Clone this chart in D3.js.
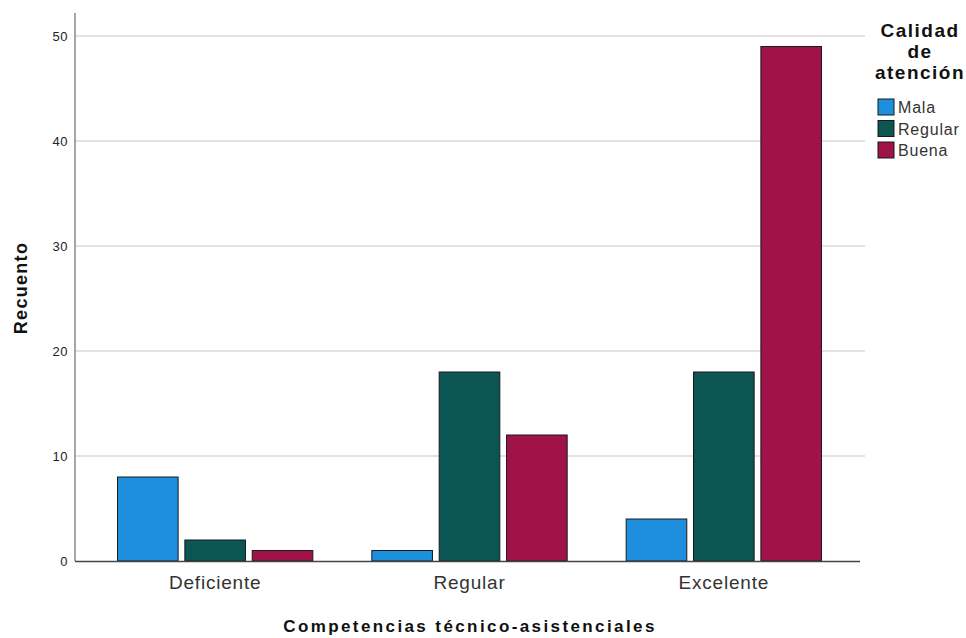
<!DOCTYPE html>
<html><head><meta charset="utf-8">
<script src="https://cdn.jsdelivr.net/npm/d3@7"></script>
<style>body{margin:0;background:#fff}svg{display:block}</style>
</head><body>
<svg id="c" width="966" height="638"></svg>
<script>
const categories = ["Deficiente", "Regular", "Excelente"];
const seriesNames = ["Mala", "Regular", "Buena"];
const mala = [8, 1, 4];
const regular = [2, 18, 18];
const buena = [1, 12, 49];
const yTicks = [0, 10, 20, 30, 40, 50];
const colors = ["#1e8fdd", "#0b5553", "#a01349"];

const series = [mala, regular, buena];
const svg = d3.select("#c");
const font = "Arial, 'Liberation Sans', sans-serif";

const y = d3.scaleLinear().domain([0, 50]).range([561, 36]);
const x0 = d3.scaleBand().domain(categories).range([88, 851]).paddingInner(0.232).paddingOuter(0.116);
const x1 = d3.scaleBand().domain(seriesNames).range([0, x0.bandwidth()]).paddingInner(0.1);

// gridlines
svg.append("g").selectAll("line").data(yTicks.filter(d => d > 0)).join("line")
  .attr("x1", 75).attr("x2", 865).attr("y1", d => y(d)).attr("y2", d => y(d))
  .attr("stroke", "#c8c8c8").attr("stroke-width", 1.2);

// y axis
const yAxis = d3.axisLeft(y).tickValues(yTicks).tickSize(0).tickPadding(7);
const gy = svg.append("g").attr("transform", "translate(75,0)").call(yAxis);
gy.select(".domain").remove();
gy.selectAll("text").attr("font-family", font).attr("font-size", 13)
  .attr("letter-spacing", 0.5).attr("fill", "#222");
svg.append("line").attr("x1", 75).attr("x2", 75).attr("y1", 13).attr("y2", 561)
  .attr("stroke", "#8a8a8a").attr("stroke-width", 1.5);

// bars
const g = svg.append("g");
categories.forEach((c, i) => {
  seriesNames.forEach((s, j) => {
    g.append("rect")
      .attr("x", x0(c) + x1(s))
      .attr("y", y(series[j][i]))
      .attr("width", x1.bandwidth())
      .attr("height", y(0) - y(series[j][i]))
      .attr("fill", colors[j])
      .attr("stroke", "#1a1a1a").attr("stroke-width", 1);
  });
});

// x axis
const xAxis = d3.axisBottom(x0).tickSize(0).tickPadding(12);
const gx = svg.append("g").attr("transform", "translate(0,561)").call(xAxis);
gx.select(".domain").remove();
gx.selectAll("text").attr("font-family", font).attr("font-size", 19)
  .attr("letter-spacing", 0.8).attr("fill", "#333").attr("dy", null).attr("y", 28);
svg.append("line").attr("x1", 75).attr("x2", 860).attr("y1", 561.5).attr("y2", 561.5)
  .attr("stroke", "#444").attr("stroke-width", 1.3);

// axis titles
svg.append("text").attr("x", 470).attr("y", 632).attr("text-anchor", "middle")
  .attr("font-family", font).attr("font-size", 17).attr("font-weight", "bold")
  .attr("letter-spacing", 2.4).attr("fill", "#111")
  .text("Competencias técnico-asistenciales");
svg.append("text").attr("transform", "translate(27,288) rotate(-90)").attr("text-anchor", "middle")
  .attr("font-family", font).attr("font-size", 18).attr("font-weight", "bold")
  .attr("letter-spacing", 1.3).attr("fill", "#111")
  .text("Recuento");

// legend
const lt = svg.append("text").attr("text-anchor", "middle").attr("font-family", font)
  .attr("font-size", 19).attr("font-weight", "bold").attr("letter-spacing", 1.5).attr("fill", "#111");
["Calidad", "de", "atención"].forEach((t, i) => {
  lt.append("tspan").attr("x", 920).attr("y", 37 + i * 21).text(t);
});
const lg = svg.append("g").selectAll("g").data(seriesNames).join("g")
  .attr("transform", (d, i) => `translate(878,${99 + i * 21.5})`);
lg.append("rect").attr("width", 16).attr("height", 16).attr("fill", (d, i) => colors[i])
  .attr("stroke", "#1a1a1a").attr("stroke-width", 1);
lg.append("text").attr("x", 20).attr("y", 14).attr("font-family", font).attr("font-size", 16)
  .attr("letter-spacing", 0.8).attr("fill", "#333").text(d => d);
</script>
</body></html>
